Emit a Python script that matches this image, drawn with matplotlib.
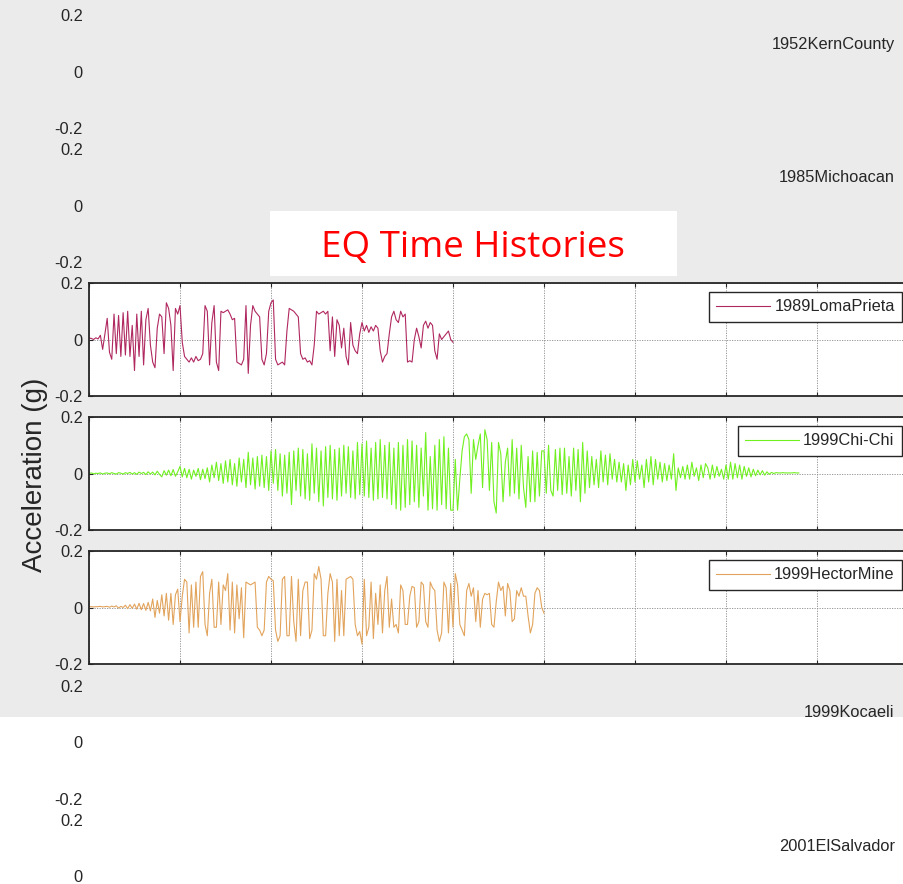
import numpy as np
import matplotlib
matplotlib.use("Agg")
import matplotlib.pyplot as plt
from matplotlib.patches import Rectangle

plt.rcParams['font.family'] = ['Liberation Sans', 'DejaVu Sans']

W, H, DPI = 904, 884, 100

# ground-motion records, top to bottom
records = ["1952KernCounty", "1985Michoacan", "1989LomaPrieta", "1999Chi-Chi",
           "1999HectorMine", "1999Kocaeli", "2001ElSalvador"]

# sampling interval of the listed accelerations (s)
dt = 0.25

loma_prieta = [
    0.005, 0.004, 0.0, 0.006, 0.002, 0.015, -0.035, 0.02, 0.075, -0.045,
    -0.07, 0.09, -0.05, 0.085, -0.06, 0.095, -0.055, 0.10, -0.06, 0.05,
    -0.11, 0.09, -0.06, 0.10, -0.09, 0.07, 0.11, -0.02, -0.08, -0.10,
    0.04, 0.09, 0.08, -0.05, 0.13, 0.11, 0.05, -0.11, 0.11, 0.09,
    0.12, -0.01, -0.06, -0.07, -0.08, -0.065, -0.08, -0.06, -0.075, -0.07,
    -0.05, 0.12, 0.10, -0.09, 0.06, 0.12, -0.08, -0.11, 0.10, 0.095,
    0.10, 0.105, 0.09, 0.07, 0.075, -0.08, -0.085, -0.09, -0.07, 0.12,
    -0.12, 0.05, 0.12, 0.10, 0.09, 0.08, -0.07, -0.09, -0.05, 0.10,
    0.13, 0.14, -0.07, -0.09, -0.085, -0.08, -0.09, 0.03, 0.11, 0.105,
    0.10, 0.09, 0.08, -0.05, -0.07, -0.065, -0.08, -0.075, -0.09, -0.02,
    0.10, 0.09, 0.095, 0.10, 0.09, 0.10, -0.04, 0.08, -0.06, 0.07,
    0.05, -0.03, 0.04, -0.06, -0.09, 0.06, -0.02, -0.04, -0.05, 0.02,
    0.06, 0.03, 0.05, 0.025, 0.045, 0.03, 0.05, 0.04, -0.04, -0.08,
    -0.06, -0.05, 0.02, 0.08, 0.10, 0.07, 0.06, 0.10, 0.08, 0.09,
    -0.08, -0.075, -0.08, 0.0, 0.04, 0.01, -0.03, 0.05, 0.065, 0.04,
    0.06, 0.05, -0.04, -0.07, 0.02, 0.0, 0.01, 0.02, 0.03, 0.0,
    -0.01,
]

chi_chi = [
    0.0, 0.002, -0.001, 0.001,
    0.0, 0.002, -0.002, 0.001,
    0.002, -0.001, 0.003, 0.0,
    -0.002, 0.003, 0.001, -0.002,
    0.003, 0.0, 0.004, -0.002,
    0.003, -0.003, 0.005, 0.0,
    0.004, -0.004, 0.006, -0.002,
    0.005, -0.005, 0.008, -0.003,
    -0.012, 0.01, -0.006, 0.012,
    -0.008, 0.014, -0.01, 0.006,
    0.025, -0.012, 0.018, -0.015,
    0.015, -0.02, 0.012, -0.01,
    0.018, -0.022, 0.015, -0.018,
    0.02, -0.03, 0.03, -0.015,
    0.04, -0.025, 0.035, -0.035,
    0.045, -0.03, 0.05, -0.04,
    0.035, -0.045, 0.055, -0.03,
    0.05, -0.05, 0.075, -0.04,
    0.055, -0.055, 0.06, -0.045,
    0.065, -0.05, 0.06, -0.06,
    0.08, -0.035, 0.085, -0.06,
    0.07, -0.08, 0.065, -0.07,
    0.075, -0.11, 0.08, -0.06,
    0.09, -0.08, 0.085, -0.09,
    0.07, -0.095, 0.105, -0.07,
    0.09, -0.1, 0.08, -0.115,
    0.095, -0.085, 0.1, -0.09,
    0.085, -0.095, 0.09, -0.08,
    0.1, -0.07, 0.095, -0.085,
    0.08, -0.09, 0.11, -0.075,
    0.105, -0.08, 0.115, -0.085,
    0.09, -0.095, 0.11, -0.09,
    0.12, -0.085, 0.1, -0.09,
    0.11, -0.11, 0.09, -0.125,
    0.11, -0.13, 0.1, -0.12,
    0.12, -0.11, 0.115, -0.1,
    0.1, -0.12, 0.09, -0.08,
    0.145, -0.13, 0.06, -0.125,
    0.1, -0.13, 0.12, -0.11,
    0.13, -0.125, 0.09, -0.13,
    -0.13, 0.05, -0.13, -0.02,
    0.08, 0.13, 0.14, 0.12,
    -0.07, 0.12, 0.05, 0.1,
    0.14, -0.05, 0.155, 0.12,
    -0.06, 0.11, -0.1, -0.14,
    0.11, 0.07, -0.1, 0.04,
    0.09, -0.08, 0.12, -0.07,
    0.09, -0.09, 0.1, -0.05,
    -0.12, 0.06, -0.1, 0.08,
    -0.1, 0.075, -0.08, 0.08,
    0.08, -0.07, 0.1, -0.06,
    -0.08, 0.085, -0.06, 0.09,
    -0.075, 0.09, -0.07, 0.06,
    -0.08, 0.09, -0.06, 0.085,
    -0.1, 0.11, -0.07, 0.08,
    -0.05, 0.06, -0.04, 0.05,
    -0.05, 0.08, -0.03, 0.065,
    -0.04, 0.07, -0.02, 0.05,
    -0.03, 0.04, -0.03, 0.035,
    -0.06, 0.03, -0.04, 0.05,
    -0.03, 0.045, -0.02, 0.03,
    -0.05, 0.05, -0.03, 0.06,
    -0.04, 0.05, -0.02, 0.04,
    -0.03, 0.035, -0.025, 0.03,
    -0.02, 0.07, -0.06, 0.02,
    -0.015, 0.025, -0.02, 0.03,
    -0.02, 0.04, -0.01, 0.02,
    -0.025, 0.03, -0.015, 0.035,
    0.02, -0.02, 0.03, -0.015,
    0.025, -0.01, 0.015, -0.02,
    0.03, -0.02, 0.04, -0.02,
    0.035, -0.015, 0.03, -0.02,
    0.025, -0.01, 0.02, -0.012,
    0.015, -0.008, 0.012, -0.005,
    0.01, -0.006, 0.006, -0.003,
    0.004, 0.0, 0.003, 0.002,
    0.002, 0.003, 0.002, 0.002,
    0.002, 0.002, 0.003, 0.002,
    0.002,
]

hector_mine = [
    0.003, 0.003, 0.002, 0.003,
    0.003, 0.004, 0.002, 0.003,
    0.004, 0.001, 0.005, 0.002,
    0.006, -0.002, 0.004, 0.0,
    0.008, -0.004, 0.01, -0.003,
    0.012, -0.006, 0.015, -0.008,
    0.014, -0.01, 0.018, -0.012,
    0.03, -0.035, 0.025, -0.02,
    0.045, -0.03, 0.05, -0.045,
    0.05, -0.06, 0.045, 0.065,
    -0.05, 0.04, 0.10, 0.09,
    -0.09, 0.08, -0.07, 0.09,
    -0.07, 0.11, 0.127, -0.06,
    -0.1, 0.05, 0.1, -0.07,
    -0.07, 0.09, -0.06, 0.08,
    0.06, 0.12, -0.08, 0.09,
    -0.09, 0.08, -0.04, 0.07,
    -0.107, 0.09, 0.085, 0.08,
    0.085, 0.09, -0.07, -0.08,
    -0.1, -0.08, 0.09, 0.11,
    0.1, 0.095, -0.08, -0.12,
    -0.1, 0.1, 0.11, -0.1,
    -0.1, 0.11, -0.05, -0.12,
    0.1, -0.1, 0.06, 0.09,
    0.09, -0.11, -0.08, 0.12,
    0.1, 0.145, 0.1, -0.1,
    -0.1, 0.05, 0.12, 0.09,
    -0.12, 0.1, -0.1, 0.06,
    -0.1, 0.1, 0.105, 0.11,
    0.1, -0.06, -0.1, -0.085,
    -0.13, 0.1, -0.1, -0.07,
    0.09, -0.11, 0.05, -0.06,
    0.08, -0.09, 0.06, 0.11,
    -0.07, 0.03, -0.07, -0.06,
    -0.09, 0.08, 0.06, -0.06,
    -0.06, 0.04, 0.075, 0.07,
    -0.07, -0.05, 0.09, 0.08,
    -0.05, -0.07, 0.09, 0.07,
    0.06, -0.08, -0.12, -0.09,
    0.09, 0.07, -0.09, 0.085,
    -0.07, 0.12, 0.08, -0.06,
    -0.08, -0.1, 0.06, 0.085,
    0.04, 0.07, -0.05, 0.06,
    -0.07, 0.03, 0.05, 0.045,
    0.05, -0.06, -0.07, 0.02,
    0.09, 0.06, 0.075, -0.03,
    0.085, 0.06, -0.05, -0.04,
    0.06, 0.04, 0.07, 0.04,
    0.04, -0.03, -0.09, -0.06,
    0.05, 0.07, 0.06, 0.0,
    -0.02,
]

traces = {
    "1989LomaPrieta": loma_prieta,
    "1999Chi-Chi": chi_chi,
    "1999HectorMine": hector_mine,
}
trace_colors = {
    "1989LomaPrieta": "#B02860",
    "1999Chi-Chi": "#70F020",
    "1999HectorMine": "#E2A45C",
}

x_ticks = [0, 10, 20, 30, 40, 50, 60, 70, 80, 90]
y_ticks = [-0.2, 0, 0.2]
y_tick_labels = ["-0.2", "0", "0.2"]

INK = "#262626"
BG = "#ebebeb"

fig = plt.figure(figsize=(W / DPI, H / DPI), dpi=DPI, facecolor=BG)
# lower part of the canvas is white
fig.add_artist(Rectangle((0, 0), 1, (H - 717) / H, transform=fig.transFigure,
                         facecolor="white", edgecolor="none", zorder=-10))

panel_tops = [15, 149, 283, 417, 551, 686, 820]
legend_drop = [14.5, 13.5, 9, 9, 9, 12, 12]   # px from axes top to legend top
panel_h = 113
ax_left, ax_w = 89, 819

for name, top, drop in zip(records, panel_tops, legend_drop):
    ax = fig.add_axes([ax_left / W, 1 - (top + panel_h) / H, ax_w / W, panel_h / H])
    ax.set_xlim(0, 90)
    ax.set_ylim(-0.2, 0.2)
    ax.set_xticks(x_ticks)
    ax.set_xticklabels([])
    ax.set_yticks(y_ticks, y_tick_labels)
    shown = name in traces
    ax.tick_params(axis="both", which="both", direction="in",
                   length=3.0 if shown else 0, width=0.8, color=INK,
                   labelcolor=INK, labelsize=11.8, pad=4.4,
                   top=shown, right=shown)
    anchor = ((902 - ax_left) / ax_w, 1 - drop / panel_h)
    if shown:
        ax.set_facecolor("white")
        for sp in ax.spines.values():
            sp.set_color(INK)
            sp.set_linewidth(1.3)
        ax.grid(True, linestyle=(0, (1.5, 1.5)), color="#8a8a8a", linewidth=0.6)
        vals = traces[name]
        t = np.arange(len(vals)) * dt
        ax.plot(t, vals, color=trace_colors[name], linewidth=0.8, label=name)
        leg = ax.legend(loc="upper right", bbox_to_anchor=anchor,
                        borderaxespad=0, fontsize=11.8, fancybox=False, framealpha=1,
                        edgecolor=INK, handlelength=3.3, handletextpad=0.25,
                        borderpad=0.45, labelcolor=INK)
        leg.get_frame().set_linewidth(1.0)
    else:
        ax.set_facecolor("none")
        for sp in ax.spines.values():
            sp.set_visible(False)
        ax.plot([], [], color=INK, label=name)
        leg = ax.legend(loc="upper right", bbox_to_anchor=anchor,
                        borderaxespad=0, fontsize=11.8, fancybox=False,
                        handlelength=3.3, handletextpad=0.25, borderpad=0.45,
                        labelcolor=INK)
        leg.get_frame().set_visible(False)
        for ln in leg.get_lines():
            ln.set_visible(False)

# title banner
fig.add_artist(Rectangle((270 / W, 1 - 276 / H), 407 / W, 65 / H, transform=fig.transFigure,
                         facecolor="white", edgecolor="none", zorder=5))
fig.text(472.5 / W, 1 - 257.3 / H, "EQ Time Histories", color="#ff0000",
         fontsize=26.5, family=["Open Sans", "DejaVu Sans"],
         ha="center", va="baseline", zorder=6)

fig.text(41.7 / W, 1 - 474.5 / H, "Acceleration (g)", rotation=90, rotation_mode="anchor",
         ha="center", va="baseline", fontsize=20, color=INK)

fig.savefig("out.png", dpi=DPI, facecolor=BG)
